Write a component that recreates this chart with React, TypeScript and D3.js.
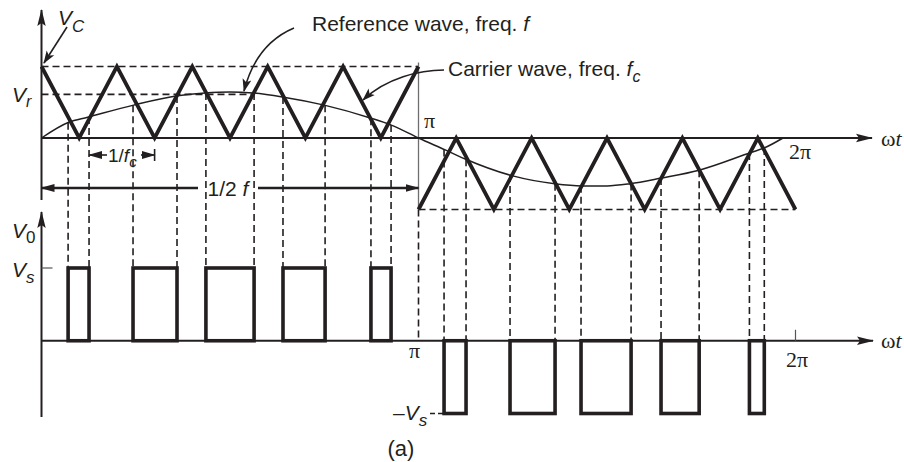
import React from "react";
import * as d3 from "d3";

// Phase axis in degrees of ωt (0..360 = 0..2π)
// Triangular carrier, first half-cycle (0..π), normalised to Vc
const carrierDeg1 = [0, 18, 36, 54, 72, 90, 108, 126, 144, 162, 180];
const carrierVal1 = [1, 0, 1, 0, 1, 0, 1, 0, 1, 0, 1];
// Triangular carrier, second half-cycle (π..2π)
const carrierDeg2 = [180, 198, 216, 234, 252, 270, 288, 306, 324, 342, 360];
const carrierVal2 = [-1, 0, -1, 0, -1, 0, -1, 0, -1, 0, -1];

// Sinusoidal reference wave
const refDeg = [0, 13, 22, 44, 65, 78, 90, 101, 115, 135, 157, 167, 180, 193, 202, 225, 245, 258, 270, 281, 296, 314, 339, 345, 354];
const refVal = [0, 0.22, 0.29, 0.46, 0.59, 0.63, 0.645, 0.63, 0.575, 0.46, 0.28, 0.18, 0, -0.17, -0.29, -0.53, -0.64, -0.67, -0.67, -0.64, -0.56, -0.45, -0.2, -0.14, 0];
const refLevel = 0.61; // Vr

// Output pulses (start / end phase, degrees)
const posStart = [12.7, 43.7, 78.5, 115.3, 157.3];
const posEnd = [22.7, 64.7, 101.5, 135.4, 166.9];
const negStart = [192.2, 223.7, 257.6, 295.8, 338.0];
const negEnd = [202.7, 245.2, 281.5, 314.0, 345.1];

const INK = "#231f20";
const SANS = "'Liberation Sans', Arial, sans-serif";
const SERIF = "'Liberation Serif', 'Times New Roman', serif";

export default function App() {
  const x = d3.scaleLinear().domain([0, 360]).range([41.5, 795.5]);
  const yT = d3.scaleLinear().domain([-1, 1]).range([209.5, 66.5]);
  const yB = d3.scaleLinear().domain([-1, 1]).range([413.5, 268]);
  const refAt = d3.scaleLinear().domain(refDeg).range(refVal);

  const lineT = d3
    .line<[number, number]>()
    .x((d) => x(d[0]))
    .y((d) => yT(d[1]));
  const carrier1 = lineT(carrierDeg1.map((d, i) => [d, carrierVal1[i]] as [number, number]));
  const carrier2 = lineT(carrierDeg2.map((d, i) => [d, carrierVal2[i]] as [number, number]));
  const refPath = lineT.curve(d3.curveMonotoneX)(
    refDeg.map((d, i) => [d, refVal[i]] as [number, number])
  );

  const x0 = x(0);
  const xPi = x(180);
  const x2Pi = x(360);
  const axisTopY = yT(0);
  const axisBotY = yB(0);
  const dash = "7 4";

  const posEdges = posStart.flatMap((s, i) => [s, posEnd[i]]);
  const negEdges = negStart.flatMap((s, i) => [s, negEnd[i]]);

  const halfY = 188;
  const halfMid = 228;
  const fcY = 155;
  const fcL = x(posEnd[0]);
  const fcR = x(carrierDeg1[3]);

  return (
    <svg
      width={904}
      height={462}
      viewBox="0 0 904 462"
      style={{ position: "absolute", left: 0, top: 0, background: "#fff" }}
    >
      <defs>
        <marker id="axisHead" viewBox="-17 -5 17 10" refX={-1} refY={0} markerWidth={17} markerHeight={10} markerUnits="userSpaceOnUse" orient="auto">
          <path d="M0,0 L-17,-4.2 L-14,0 L-17,4.2 Z" fill={INK} />
        </marker>
        <marker id="dimHead" viewBox="-14 -5 14 10" refX={-1} refY={0} markerWidth={14} markerHeight={10} markerUnits="userSpaceOnUse" orient="auto">
          <path d="M0,0 L-14,-4 L-14,4 Z" fill={INK} />
        </marker>
        <marker id="ptrHead" viewBox="-13 -5 13 10" refX={-1} refY={0} markerWidth={13} markerHeight={10} markerUnits="userSpaceOnUse" orient="auto">
          <path d="M0,0 L-13,-4.5 L-10,0 L-13,4.5 Z" fill={INK} />
        </marker>
      </defs>

      {/* reference levels */}
      <line x1={x0} x2={xPi} y1={yT(1)} y2={yT(1)} stroke={INK} strokeWidth={1.6} strokeDasharray={dash} />
      <line x1={x0} x2={x(posEnd[2])} y1={yT(refLevel)} y2={yT(refLevel)} stroke={INK} strokeWidth={1.6} strokeDasharray={dash} />
      <line x1={xPi} x2={x2Pi} y1={yT(-1)} y2={yT(-1)} stroke={INK} strokeWidth={1.6} strokeDasharray={dash} />

      {/* π divider */}
      <line x1={xPi} x2={xPi} y1={yT(1) - 4} y2={yT(-1)} stroke="#6e6e6e" strokeWidth={1.3} />
      <line x1={xPi} x2={xPi} y1={yT(-1)} y2={axisBotY} stroke={INK} strokeWidth={1.6} strokeDasharray={dash} />

      {/* projection lines from crossings to pulses */}
      {posEdges.map((d, i) => (
        <line key={"pd" + i} x1={x(d)} x2={x(d)} y1={yT(refAt(d))} y2={yB(1)} stroke={INK} strokeWidth={1.6} strokeDasharray={dash} />
      ))}
      {negEdges.map((d, i) => (
        <line key={"nd" + i} x1={x(d)} x2={x(d)} y1={yT(refAt(d))} y2={axisBotY} stroke={INK} strokeWidth={1.6} strokeDasharray={dash} />
      ))}

      {/* axes */}
      <line x1={x0} x2={x0} y1={200} y2={10} stroke={INK} strokeWidth={2} markerEnd="url(#axisHead)" />
      <line x1={x0} x2={872} y1={axisTopY} y2={axisTopY} stroke={INK} strokeWidth={2} markerEnd="url(#axisHead)" />
      <line x1={x0} x2={x0} y1={417} y2={212} stroke={INK} strokeWidth={2} markerEnd="url(#axisHead)" />
      <line x1={x0} x2={873} y1={axisBotY} y2={axisBotY} stroke={INK} strokeWidth={2} markerEnd="url(#axisHead)" />
      <line x1={x0} x2={x0 + 11} y1={yB(1)} y2={yB(1)} stroke="#555" strokeWidth={1.2} />
      <line x1={x2Pi} x2={x2Pi} y1={axisBotY - 11} y2={axisBotY} stroke="#555" strokeWidth={1.2} />
      <line x1={430} x2={x(negStart[0])} y1={yB(-1)} y2={yB(-1)} stroke={INK} strokeWidth={1.6} strokeDasharray="5 3" />

      {/* carrier and reference */}
      <path d={carrier1 || ""} fill="none" stroke={INK} strokeWidth={3.8} strokeLinejoin="miter" />
      <path d={carrier2 || ""} fill="none" stroke={INK} strokeWidth={3.8} strokeLinejoin="miter" />
      <path d={refPath || ""} fill="none" stroke={INK} strokeWidth={1.5} />

      {/* output pulses */}
      {posStart.map((s, i) => (
        <rect key={"pp" + i} x={x(s)} y={yB(1)} width={x(posEnd[i]) - x(s)} height={yB(0) - yB(1)} fill="none" stroke={INK} strokeWidth={3.6} />
      ))}
      {negStart.map((s, i) => (
        <rect key={"np" + i} x={x(s)} y={yB(0)} width={x(negEnd[i]) - x(s)} height={yB(-1) - yB(0)} fill="none" stroke={INK} strokeWidth={3.6} />
      ))}

      {/* 1/2f dimension */}
      <line x1={halfMid - 30} x2={x0} y1={halfY} y2={halfY} stroke={INK} strokeWidth={2.4} markerEnd="url(#dimHead)" />
      <line x1={halfMid + 30} x2={xPi} y1={halfY} y2={halfY} stroke={INK} strokeWidth={2.4} markerEnd="url(#dimHead)" />
      <text x={halfMid} y={halfY + 8} textAnchor="middle" fontFamily={SANS} fontSize={21} fill={INK}>
        1/2 <tspan fontStyle="italic">f</tspan>
      </text>

      {/* 1/fc dimension */}
      <line x1={107} x2={fcL} y1={fcY} y2={fcY} stroke={INK} strokeWidth={1.6} markerEnd="url(#dimHead)" />
      <line x1={141} x2={fcR} y1={fcY} y2={fcY} stroke={INK} strokeWidth={1.6} markerEnd="url(#dimHead)" />
      <line x1={fcR} x2={fcR} y1={fcY - 6} y2={fcY + 6} stroke={INK} strokeWidth={1.6} />
      <text x={108} y={fcY + 7} fontFamily={SANS} fontSize={19} fill={INK}>
        1/<tspan fontStyle="italic">f</tspan>
        <tspan fontStyle="italic" fontSize={15} dy={5}>c</tspan>
      </text>

      {/* pointers */}
      <path d="M67,27 L44,63" fill="none" stroke={INK} strokeWidth={1.6} markerEnd="url(#ptrHead)" />
      <path d="M294,28 Q256,44 244,91" fill="none" stroke={INK} strokeWidth={1.6} markerEnd="url(#ptrHead)" />
      <path d="M444,70 C420,70 386,78 363,100" fill="none" stroke={INK} strokeWidth={1.6} markerEnd="url(#ptrHead)" />

      {/* labels */}
      <g fontFamily={SANS} fill={INK}>
        <text x={312} y={31} fontSize={21}>
          Reference wave, freq. <tspan fontStyle="italic">f</tspan>
        </text>
        <text x={448} y={76} fontSize={21}>
          Carrier wave, freq. <tspan fontStyle="italic">f</tspan>
          <tspan fontStyle="italic" fontSize={16} dy={6}>c</tspan>
        </text>
        <text x={58} y={25} fontSize={21} fontStyle="italic">
          V<tspan fontSize={17} dy={7}>C</tspan>
        </text>
        <text x={12} y={102} fontSize={21} fontStyle="italic">
          V<tspan fontSize={16} dy={5}>r</tspan>
        </text>
        <text x={12} y={238} fontSize={21} fontStyle="italic">
          V<tspan fontSize={17} fontStyle="normal" dy={5}>0</tspan>
        </text>
        <text x={12} y={277} fontSize={21} fontStyle="italic">
          V<tspan fontSize={17} dy={6}>s</tspan>
        </text>
        <text x={393} y={420} fontSize={21} fontStyle="italic">
          <tspan fontStyle="normal">–</tspan>V<tspan fontSize={17} dy={6}>s</tspan>
        </text>
        <text x={401} y={456} fontSize={22} textAnchor="middle">(a)</text>
      </g>
      <g fontFamily={SERIF} fill={INK} fontSize={22}>
        <text x={424} y={128}>π</text>
        <text x={789} y={159}>2π</text>
        <text x={881} y={146}>ω<tspan fontStyle="italic">t</tspan></text>
        <text x={409} y={358}>π</text>
        <text x={786} y={367}>2π</text>
        <text x={881} y={348}>ω<tspan fontStyle="italic">t</tspan></text>
      </g>
    </svg>
  );
}
